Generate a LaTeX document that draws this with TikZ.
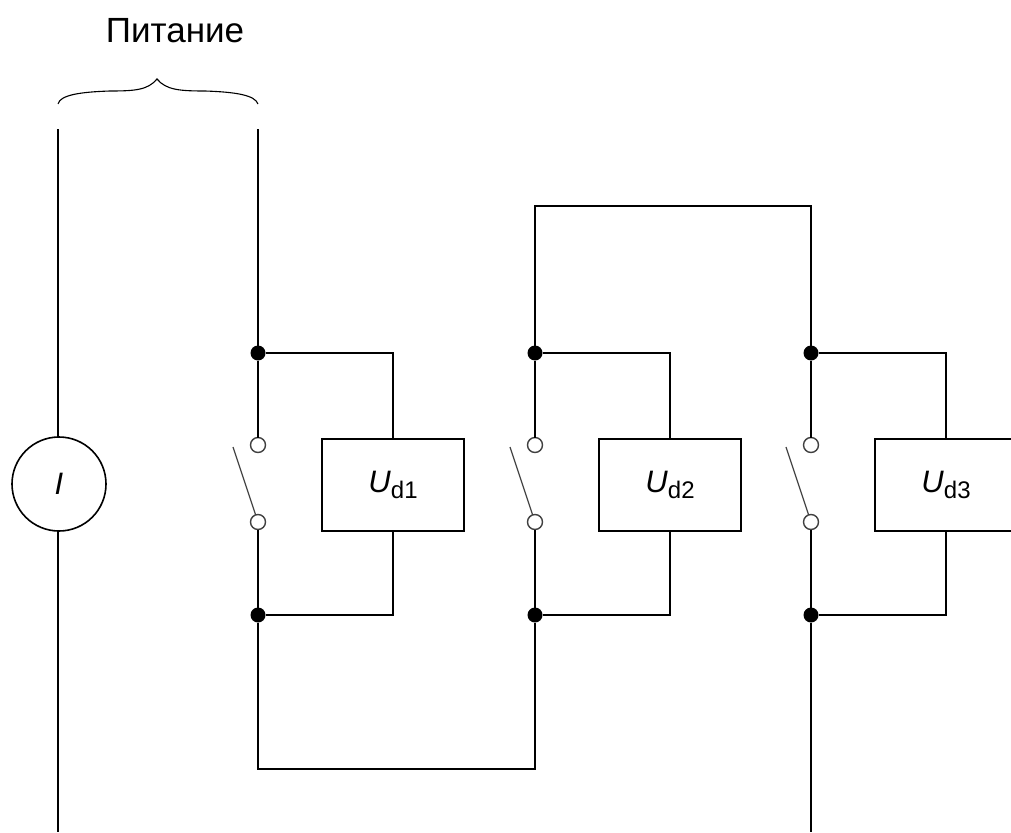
\documentclass[tikz,border=0pt]{standalone}
\usepackage{fontspec}
\setmainfont{Liberation Sans}
\usetikzlibrary{arrows.meta}
\tikzset{
  wire/.style={line width=1.8pt},
  dev/.style={draw, line width=1.8pt, minimum width=142pt, minimum height=92pt, inner sep=0pt, outer sep=0pt},
  source/.style={draw, circle, line width=1.6pt, minimum size=94pt, inner sep=0pt, outer sep=0pt},
  junc/.style={circle, fill=black, minimum size=15pt, inner sep=0pt, outer sep=0pt},
  term/.style={draw=black!75, fill=white, circle, line width=1.4pt, minimum size=15pt, inner sep=0pt, outer sep=0pt},
  blade/.style={line width=1.2pt, black!75},
}
\newcommand{\Ud}[1]{\fontsize{31}{31}\selectfont\textit{U}\raisebox{-6pt}{\fontsize{24}{24}\selectfont d#1}}
\begin{document}
\begin{tikzpicture}[x=1pt,y=-1pt]
  \useasboundingbox (0,0) rectangle (1011,832);
  % supply
  \node[source] (src) at (59,484) {\fontsize{31}{31}\selectfont\textit{I}};
  \coordinate (supA) at (58,129);
  \coordinate (supB) at (258,129);
  \coordinate (out) at (58,832);
  \coordinate (out3) at (811,832);
  \node (title) at (175,31) {\fontsize{35}{35}\selectfont Питание};
  \draw[line width=1.1pt] (58,104) .. controls (60,95) and (80,92) .. (110,91) .. controls (135,91) and (148,90) .. (157,79) .. controls (166,90) and (180,91) .. (205,91) .. controls (235,92) and (255,95) .. (258,104);
  % sections
  \node[dev] (d1) at (393,485) {\raisebox{-2pt}{\Ud{1}}};
  \node[dev] (d2) at (670,485) {\raisebox{-2pt}{\Ud{2}}};
  \node[dev] (d3) at (946,485) {\raisebox{-2pt}{\Ud{3}}};
  \node[junc] (jt1) at (258,353) {};
  \node[junc] (jt2) at (535,353) {};
  \node[junc] (jt3) at (811,353) {};
  \node[junc] (jb1) at (258,615) {};
  \node[junc] (jb2) at (535,615) {};
  \node[junc] (jb3) at (811,615) {};
  \node[term] (tt1) at (258,445) {};
  \node[term] (tt2) at (535,445) {};
  \node[term] (tt3) at (811,445) {};
  \node[term] (tb1) at (258,522) {};
  \node[term] (tb2) at (535,522) {};
  \node[term] (tb3) at (811,522) {};
  \coordinate (bl1) at (233,447);
  \coordinate (bl2) at (510,447);
  \coordinate (bl3) at (786,447);
  % wiring
  \draw[wire] (supA) -- (supA |- src.north);
  \draw[wire] (out |- src.south) -- (out);
  \draw[wire] (supB) -- (jt1);
  \draw[wire] (jt1) -- (tt1);
  \draw[wire] (jt2) -- (tt2);
  \draw[wire] (jt3) -- (tt3);
  \draw[wire] (tb1) -- (jb1);
  \draw[wire] (tb2) -- (jb2);
  \draw[wire] (tb3) -- (jb3);
  \draw[wire] (jt1) -| (d1);
  \draw[wire] (jt2) -| (d2);
  \draw[wire] (jt3) -| (d3);
  \draw[wire] (jb1) -| (d1);
  \draw[wire] (jb2) -| (d2);
  \draw[wire] (jb3) -| (d3);
  \draw[wire] (jt2) |- (535,206) -| (jt3);
  \draw[wire] (jb1) |- (258,769) -| (jb2);
  \draw[wire] (jb3) -- (out3);
  \draw[blade] (bl1) -- (tb1);
  \draw[blade] (bl2) -- (tb2);
  \draw[blade] (bl3) -- (tb3);
\end{tikzpicture}
\end{document}
